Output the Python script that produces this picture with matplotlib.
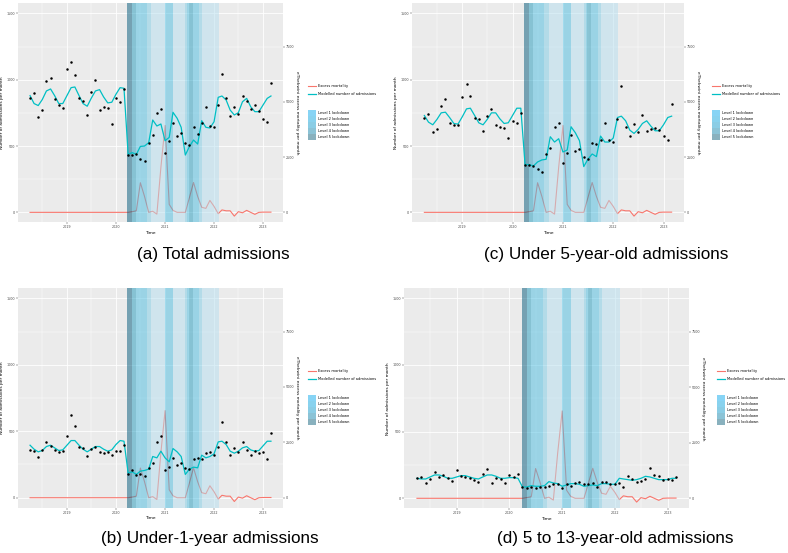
import numpy as np
import pandas as pd
import matplotlib
matplotlib.use("Agg")
import matplotlib.pyplot as plt
import matplotlib.dates as mdates
from matplotlib.lines import Line2D
from matplotlib.patches import Patch

# monthly series, Apr 2018 - Mar 2023
months = pd.date_range("2018-04-01", periods=60, freq="MS")

# eThekwini excess deaths per month (right axis)
excess_mortality = [0] * 24 + [
    0, 30, 70, 1340, 720, 0, 50, -80, 2040,
    3930, 360, 90, 0, 0, 0, 660, 1350, 720, 230, 180, 540,
    270, -60, 110, 70, 70, -170, 30, -20, 90, 0, -90, 0,
    10, 10, 10,
]

total_obs = [862, 902, 716, 771, 992, 1010, 852, 809, 789,
             1080, 1133, 1038, 864, 842, 736, 910, 995, 774, 794, 786, 668,
             859, 829, 927, 435, 430, 437, 405, 389, 520, 580, 749, 781,
             450, 540, 673, 575, 600, 522, 507, 643, 593, 671, 796, 653,
             643, 809, 1043, 864, 729, 794, 739, 874, 842, 776, 807, 761,
             704, 683, 972]
total_model = [880, 820, 805, 850, 915, 930, 880, 820, 820,
               880, 940, 945, 880, 820, 800, 860, 915, 925, 870, 825, 830,
               890, 940, 935, 437, 450, 437, 497, 500, 525, 696, 651, 666,
               540, 565, 754, 709, 641, 432, 495, 545, 515, 691, 641, 636,
               683, 867, 877, 847, 771, 734, 751, 834, 859, 796, 759, 759,
               809, 859, 877]

under5_obs = [709, 741, 603, 628, 799, 852, 676, 656, 658,
              869, 965, 877, 714, 706, 613, 729, 781, 661, 646, 636, 558,
              688, 671, 746, 357, 357, 352, 324, 307, 437, 487, 646, 676,
              372, 450, 583, 462, 480, 420, 402, 525, 513, 545, 676, 545,
              530, 701, 955, 641, 578, 663, 603, 734, 611, 626, 638, 621,
              578, 545, 814]
under5_model = [730, 680, 660, 700, 750, 755, 715, 670, 665,
                720, 780, 785, 730, 675, 660, 700, 750, 750, 705, 670, 675,
                730, 785, 785, 360, 360, 350, 380, 395, 400, 570, 530, 555,
                455, 470, 645, 600, 540, 345, 400, 440, 420, 575, 530, 530,
                560, 715, 725, 690, 620, 595, 625, 670, 690, 650, 615, 615,
                660, 715, 725]

under1_obs = [359, 351, 303, 359, 416, 391, 359, 346, 354,
              461, 619, 537, 384, 371, 316, 366, 384, 346, 334, 341, 318,
              354, 354, 396, 178, 208, 171, 178, 163, 221, 258, 416, 466,
              208, 233, 296, 246, 258, 221, 213, 288, 301, 291, 339, 341,
              321, 379, 567, 416, 321, 371, 346, 421, 359, 321, 354, 339,
              346, 291, 484]
under1_model = [395, 365, 345, 355, 385, 395, 375, 355, 360,
                395, 430, 430, 395, 365, 345, 365, 385, 385, 365, 350, 360,
                400, 430, 425, 185, 195, 175, 200, 205, 215, 310, 300, 350,
                300, 270, 370, 345, 310, 175, 215, 230, 225, 320, 300, 310,
                330, 420, 425, 400, 350, 335, 350, 375, 385, 360, 350, 355,
                390, 425, 425]

age5to13_obs = [155, 158, 113, 143, 195, 163, 175, 150, 130,
                213, 168, 163, 155, 135, 120, 183, 218, 113, 150, 145, 115,
                175, 163, 183, 83, 75, 88, 75, 88, 88, 93, 108, 108,
                75, 108, 93, 118, 125, 108, 105, 118, 83, 125, 120, 108,
                108, 113, 88, 168, 145, 125, 133, 143, 230, 175, 168, 138,
                145, 138, 158]
age5to13_model = [150, 145, 145, 160, 175, 175, 165, 150, 150,
                  160, 170, 170, 160, 150, 145, 160, 175, 175, 165, 150, 150,
                  155, 155, 150, 85, 85, 95, 90, 90, 95, 125, 115, 110,
                  90, 100, 110, 110, 105, 90, 95, 100, 95, 110, 110, 105,
                  105, 150, 145, 140, 135, 140, 150, 165, 160, 150, 140, 140,
                  140, 150, 150]

# lockdown periods
lockdown_start = ["2020-03-27", "2020-05-01", "2020-06-01", "2020-08-18", "2020-09-21",
                  "2020-12-29", "2021-03-01", "2021-05-31", "2021-06-16", "2021-06-28",
                  "2021-07-26", "2021-09-13", "2021-10-01"]
lockdown_end = ["2020-05-01", "2020-06-01", "2020-08-18", "2020-09-21", "2020-12-29",
                "2021-03-01", "2021-05-31", "2021-06-16", "2021-06-28", "2021-07-26",
                "2021-09-13", "2021-10-01", "2022-02-07"]
lockdown_level = [5, 4, 3, 2, 1, 3, 1, 2, 3, 4, 3, 2, 1]

BAND_COLOURS = {1: "#B5DFEF", 2: "#7DCDE7", 3: "#4BBDE1", 4: "#239BBD", 5: "#00597A"}
KEY_COLOURS = {1: "#87D4F5", 2: "#88D2EE", 3: "#8ACDE5", 4: "#8BC3D6", 5: "#89B1BE"}
RED = "#F8766D"
TEAL = "#00BFC4"
MORTALITY_SCALE = 6  # sec. axis = admissions axis * 6

W, H = 788, 553
TICK_FS = 2.4
TITLE_FS = 3.2
LEG_FS = 2.6


def fx(px):
    return px / W


def fy(px):
    return 1 - px / H


def draw_panel(fig, box, obs, model, legend_xy):
    x0, y0, x1, y1 = box
    ax = fig.add_axes([fx(x0), fy(y1), fx(x1 - x0), (y1 - y0) / H])
    ax.set_facecolor("#EBEBEB")
    for s in ax.spines.values():
        s.set_visible(False)
    ax.set_axisbelow(True)

    ax.plot(months, np.array(excess_mortality) / MORTALITY_SCALE, color=RED, lw=0.8, zorder=1)
    for st, en, lv in zip(lockdown_start, lockdown_end, lockdown_level):
        ax.axvspan(pd.Timestamp(st), pd.Timestamp(en), color=BAND_COLOURS[lv],
                   alpha=0.5, lw=0, zorder=1.5)
    ax.plot(months, model, color=TEAL, lw=0.9, zorder=2)
    ax.scatter(months, obs, s=3.2, color="black", lw=0, zorder=3)

    ax.margins(x=0.05)
    ax.set_ylim(-75, 1575)
    ax.set_yticks([0, 500, 1000, 1500])
    ax.set_yticks([250, 750, 1250], minor=True)
    ax.xaxis.set_major_locator(mdates.YearLocator())
    ax.xaxis.set_major_formatter(mdates.DateFormatter("%Y"))
    ax.xaxis.set_minor_locator(mdates.MonthLocator(bymonth=7))
    ax.grid(True, which="major", color="white", lw=0.6)
    ax.grid(True, which="minor", color="white", lw=0.3)
    ax.tick_params(which="major", labelsize=TICK_FS, labelcolor="#4D4D4D",
                   color="#333333", length=1.2, width=0.3, pad=1)
    ax.tick_params(which="minor", length=0)
    ax.set_xlabel("Time", fontsize=TITLE_FS, labelpad=1)
    ax.set_ylabel("Number of admissions per month", fontsize=TITLE_FS, labelpad=1.5)

    sec = ax.secondary_yaxis("right", functions=(lambda v: v * MORTALITY_SCALE,
                                                 lambda v: v / MORTALITY_SCALE))
    sec.set_yticks([0, 2500, 5000, 7500])
    for s in sec.spines.values():
        s.set_visible(False)
    sec.tick_params(labelsize=TICK_FS, labelcolor="#4D4D4D", color="#333333",
                    length=1.2, width=0.3, pad=1)
    sec.set_ylabel("eThekwini excess mortality per month", fontsize=TITLE_FS,
                   rotation=270, labelpad=3)

    lx, ly = legend_xy
    line_handles = [Line2D([], [], color=RED, lw=0.8), Line2D([], [], color=TEAL, lw=0.9)]
    leg1 = ax.legend(line_handles, ["Excess mortality", "Modelled number of admissions"],
                     loc="upper left", bbox_to_anchor=(fx(lx), fy(ly)),
                     bbox_transform=fig.transFigure, frameon=False, fontsize=LEG_FS,
                     borderpad=0, handlelength=2.3, handletextpad=0.5, labelspacing=1.2)
    ax.add_artist(leg1)
    fill_handles = [Patch(facecolor=KEY_COLOURS[lv], lw=0) for lv in [1, 2, 3, 4, 5]]
    ax.legend(fill_handles, [f"Level {lv} lockdown" for lv in [1, 2, 3, 4, 5]],
              loc="upper left", bbox_to_anchor=(fx(lx), fy(ly + 26.5)),
              bbox_transform=fig.transFigure, frameon=False, fontsize=LEG_FS,
              borderpad=0, handlelength=2.3, handleheight=2.1, handletextpad=0.5,
              labelspacing=0.05)
    return ax


fig = plt.figure(figsize=(W / 100, H / 100), dpi=100)
fig.patch.set_facecolor("white")

draw_panel(fig, (18, 3.4, 283, 222.3), total_obs, total_model, (306, 82))
draw_panel(fig, (412, 3.4, 684, 222.3), under5_obs, under5_model, (710, 82))
draw_panel(fig, (18, 288.3, 283, 507.7), under1_obs, under1_model, (306, 367))
draw_panel(fig, (404, 288.3, 689, 508.3), age5to13_obs, age5to13_model, (715, 367))

cap = dict(fontsize=12.3, family="Liberation Sans", ha="center", va="center")
fig.text(fx(213), fy(255), "(a) Total admissions", **cap)
fig.text(fx(606), fy(255), "(c) Under 5-year-old admissions", **cap)
fig.text(fx(210), fy(538), "(b) Under-1-year admissions", **cap)
fig.text(fx(615), fy(538), "(d) 5 to 13-year-old admissions", **cap)

fig.savefig("out.png", dpi=100)
